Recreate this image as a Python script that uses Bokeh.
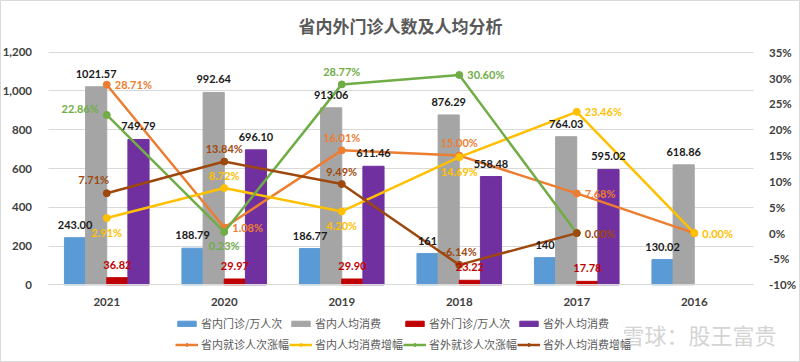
from bokeh.plotting import figure
from bokeh.models import (ColumnDataSource, FactorRange, Range1d, LinearAxis, Legend, LegendItem,
                          NumeralTickFormatter, PrintfTickFormatter, FixedTicker, Label)
from bokeh.transform import dodge
from bokeh.core.properties import value
from bokeh.embed import file_html
from bokeh.resources import INLINE

# ---------------- data ----------------
years = ["2021", "2020", "2019", "2018", "2017", "2016"]
in_visits = [243.00, 188.79, 186.77, 161, 140, 130.02]          # 省内门诊/万人次
in_visits_text = ["243.00", "188.79", "186.77", "161", "140", "130.02"]
in_spend = [1021.57, 992.64, 913.06, 876.29, 764.03, 618.86]    # 省内人均消费
out_visits = [36.82, 29.97, 29.90, 23.22, 17.78]                # 省外门诊/万人次 (2021-2017)
out_spend = [749.79, 696.10, 611.46, 558.48, 595.02]            # 省外人均消费 (2021-2017)
in_visit_growth = [28.71, 1.08, 16.01, 15.00, 7.68, 0.00]       # 省内就诊人次涨幅 %
in_spend_growth = [2.91, 8.72, 4.20, 14.69, 23.46, 0.00]        # 省内人均消费增幅 %
out_visit_growth = [22.86, 0.23, 28.77, 30.60, 0.00]            # 省外就诊人次涨幅 %
out_spend_growth = [7.71, 13.84, 9.49, -6.14, 0.00]             # 省外人均消费增幅 %
left_ticks = [0, 200, 400, 600, 800, 1000, 1200]
right_ticks = [-10, -5, 0, 5, 10, 15, 20, 25, 30, 35]
title_text = "省内外门诊人数及人均分析"
watermark_text = "雪球：股王富贵"

# ---------------- layout constants (pixels) ----------------
W, H = 800, 362
PAD_X = 47.5          # frame edge -> first/last category boundary
PX_TOP = 51.7         # frame top -> top gridline
PLOT_PX = 232.6       # height of the tick band
PX_BOT = H - PX_TOP - PLOT_PX
n_cat = len(years)
cat_px = (W - 2 * PAD_X) / n_cat


def ext(lo, hi):
    per_px = (hi - lo) / PLOT_PX
    return lo - PX_BOT * per_px, hi + PX_TOP * per_px


l_start, l_end = ext(left_ticks[0], left_ticks[-1])
r_start, r_end = ext(right_ticks[0], right_ticks[-1])

p = figure(x_range=FactorRange(*years, range_padding=PAD_X / cat_px, range_padding_units="absolute"),
           y_range=Range1d(l_start, l_end),
           width=W, height=H, output_backend="svg", toolbar_location=None,
           min_border=0, min_border_left=0, min_border_right=0, min_border_top=0, min_border_bottom=0)
p.extra_y_ranges = {"pct": Range1d(r_start, r_end)}
p.outline_line_color = "#d9d9d9"
p.outline_line_width = 1
p.background_fill_color = "white"
p.border_fill_color = "white"

NUM_FONT = "Lato"
CJK_FONT = "Noto Sans CJK SC"
AX_COLOR = "#404040"

p.yaxis.ticker = FixedTicker(ticks=left_ticks)
p.yaxis.formatter = NumeralTickFormatter(format="0,0")
p.yaxis.fixed_location = 0
p.ygrid.ticker = FixedTicker(ticks=left_ticks)
p.ygrid.grid_line_color = "#d9d9d9"
p.xgrid.grid_line_color = None
try:
    p.ygrid[0].cross_bounds = (0, n_cat)
except Exception:
    pass

right = LinearAxis(y_range_name="pct", ticker=FixedTicker(ticks=right_ticks),
                   formatter=PrintfTickFormatter(format="%d%%"), fixed_location=n_cat)
p.add_layout(right, "right")

for ax in [p.yaxis[0], right]:
    ax.axis_line_color = None
    ax.major_tick_line_color = None
    ax.minor_tick_line_color = None
    ax.major_label_text_font = NUM_FONT
    ax.major_label_text_font_style = "bold"
    ax.major_label_text_font_size = "11.5px"
    ax.major_label_text_color = AX_COLOR
p.yaxis.major_label_standoff = 10
right.major_label_standoff = 10

p.xaxis.fixed_location = 0
p.xaxis.bounds = (0, n_cat)
p.xaxis.axis_line_color = "#d9d9d9"
p.xaxis.major_tick_line_color = None
p.xaxis.minor_tick_line_color = None
p.xaxis.major_label_text_font = NUM_FONT
p.xaxis.major_label_text_font_style = "bold"
p.xaxis.major_label_text_font_size = "11.5px"
p.xaxis.major_label_text_color = AX_COLOR
p.xaxis.major_label_standoff = 7

# ---------------- bars ----------------
BW = 0.18
bar_specs = [
    ("省内门诊/万人次", years, in_visits, in_visits_text, -0.27, "#5B9BD5", "#1a1a1a"),
    ("省内人均消费", years, in_spend, [f"{v:.2f}" for v in in_spend], -0.09, "#A5A5A5", "#1a1a1a"),
    ("省外门诊/万人次", years[:len(out_visits)], out_visits, [f"{v:.2f}" for v in out_visits], 0.09, "#C00000", "#C00000"),
    ("省外人均消费", years[:len(out_spend)], out_spend, [f"{v:.2f}" for v in out_spend], 0.27, "#7030A0", "#1a1a1a"),
]
bar_renderers = []
bar_label_jobs = []
for name, xs, vals, texts, off, color, tcolor in bar_specs:
    src = ColumnDataSource(dict(x=xs, top=vals, label=texts))
    r = p.vbar(x=dodge("x", off, range=p.x_range), top="top", width=BW, source=src,
               fill_color=color, line_color=color)
    bar_renderers.append((name, r))
    bar_label_jobs.append((src, off, tcolor))

# ---------------- lines ----------------
placements = {
    "right": dict(text_align="left", x_offset=8, y_offset=0),
    "left": dict(text_align="right", x_offset=-8, y_offset=-6),
    "above": dict(text_align="center", x_offset=0, y_offset=-13),
    "below": dict(text_align="center", x_offset=0, y_offset=14),
    "aboveleft": dict(text_align="center", x_offset=-13, y_offset=-14),
}
line_specs = [
    ("省内就诊人次涨幅", in_visit_growth, "#ED7D31",
     ["right", "right", "above", "above", "right", None]),
    ("省内人均消费增幅", in_spend_growth, "#FFC000",
     ["below", "above", "below", "below", "right", "right"]),
    ("省外就诊人次涨幅", out_visit_growth, "#70AD47",
     ["left", "below", "above", "right", None]),
    ("省外人均消费增幅", out_spend_growth, "#9E480E",
     ["aboveleft", "above", "above", "above", "right"]),
]
line_renderers = []
line_label_jobs = []
for name, vals, color, places in line_specs:
    xs = years[:len(vals)]
    src = ColumnDataSource(dict(x=xs, y=vals))
    lr = p.line(x="x", y="y", source=src, y_range_name="pct", line_color=color, line_width=2.5)
    sr = p.scatter(x="x", y="y", source=src, y_range_name="pct", size=7,
                   fill_color=color, line_color=color)
    line_renderers.append((name, [lr, sr]))
    line_label_jobs.append((xs, vals, color, places))

# ---------------- data labels (drawn on top) ----------------
for src, off, tcolor in bar_label_jobs:
    p.text(x=dodge("x", off, range=p.x_range), y="top", text="label", source=src,
           text_align="center", text_baseline="middle", y_offset=-13,
           text_font=value(NUM_FONT), text_font_style="bold", text_font_size="11px",
           text_color=tcolor)

for xs, vals, color, places in line_label_jobs:
    for key, opts in placements.items():
        idx = [i for i, pl in enumerate(places) if pl == key]
        if not idx:
            continue
        lsrc = ColumnDataSource(dict(x=[xs[i] for i in idx], y=[vals[i] for i in idx],
                                     label=[f"{vals[i]:.2f}%" for i in idx]))
        p.text(x="x", y="y", text="label", source=lsrc, y_range_name="pct",
               text_baseline="middle", text_font=value(NUM_FONT), text_font_size="11px",
               text_font_style="bold", text_color=color, **opts)

# ---------------- legend ----------------
def make_legend(items, y):
    lg = Legend(items=items, orientation="horizontal", location=(175, y),
                padding=0, margin=0, spacing=0, border_line_color=None,
                background_fill_alpha=0, glyph_width=23, glyph_height=7,
                label_standoff=3, label_width=88, label_height=14,
                label_text_font=CJK_FONT, label_text_font_size="11px",
                label_text_color="#595959")
    p.add_layout(lg)

make_legend([LegendItem(label=n, renderers=[r]) for n, r in bar_renderers], 31)
make_legend([LegendItem(label=n, renderers=rs) for n, rs in line_renderers], 10)

# ---------------- title & watermark ----------------
p.add_layout(Label(x=W / 2, y=H - 25, x_units="screen", y_units="screen",
                   text=title_text, text_align="center", text_baseline="middle",
                   text_font=CJK_FONT, text_font_style="bold", text_font_size="17px",
                   text_color="#595959"))
p.add_layout(Label(x=622, y=H - 333, x_units="screen", y_units="screen",
                   text=watermark_text, text_align="left", text_baseline="middle",
                   text_font=CJK_FONT, text_font_size="22px", text_color="#d4d4d4"))

open("out.html", "w").write(file_html(p, INLINE))
